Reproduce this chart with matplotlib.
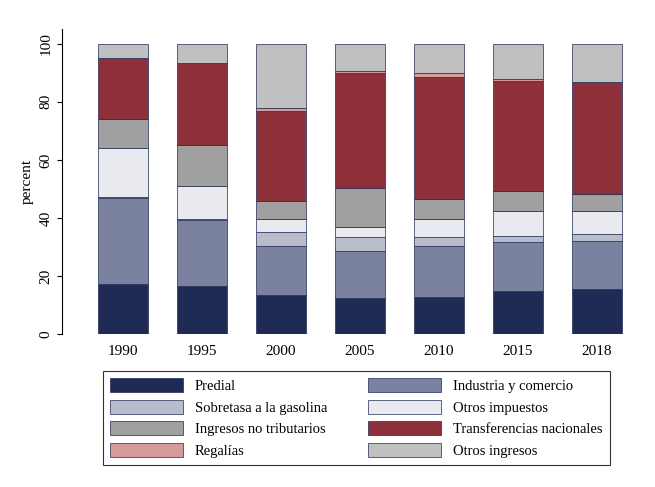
import numpy as np
import matplotlib.pyplot as plt
from matplotlib.patches import Patch

plt.rcParams['font.family'] = ['Liberation Serif', 'DejaVu Serif']

years = ['1990', '1995', '2000', '2005', '2010', '2015', '2018']
labels = ['Predial', 'Industria y comercio', 'Sobretasa a la gasolina', 'Otros impuestos',
          'Ingresos no tributarios', 'Transferencias nacionales', 'Regalías', 'Otros ingresos']
# cumulative tops
tops = [
    [17.2, 16.5, 13.4, 12.4, 12.7, 14.8, 15.5],
    [47.0, 39.2, 30.3, 28.6, 30.3, 31.7, 32.0],
    [47.3, 39.5, 35.2, 33.4, 33.4, 33.8, 34.5],
    [64.0, 51.0, 39.6, 37.0, 39.6, 42.4, 42.4],
    [74.0, 65.0, 45.9, 50.3, 46.5, 49.3, 48.3],
    [95.0, 93.4, 77.0, 90.0, 88.6, 87.2, 86.9],
    [95.0, 93.4, 78.0, 90.7, 90.0, 88.0, 86.9],
    [100, 100, 100, 100, 100, 100, 100],
]
colors = ['#1f2b55', '#7a82a0', '#b9bccb', '#e9eaef', '#a0a0a0', '#8f2f3a', '#d49a9c', '#c0c0c0']

fig = plt.figure(figsize=(6.55, 4.87), dpi=100)
ax = fig.add_axes([0.095, 0.314, 0.885, 0.626])
x = np.arange(len(years))
prev = np.zeros(len(years))
for t, c in zip(tops, colors):
    t = np.array(t, dtype=float)
    ax.bar(x, t - prev, bottom=prev, width=0.63, color=c, edgecolor='#1f2b55', linewidth=0.5)
    prev = t

ax.set_xlim(-0.77, 6.57)
ax.set_ylim(0, 105)
ax.set_yticks([0, 20, 40, 60, 80, 100])
ax.set_xticks(x)
ax.set_xticklabels(years, fontsize=11)
for lab in ax.get_yticklabels():
    lab.set_rotation(90)
    lab.set_va('center')
    lab.set_fontsize(11)
ax.set_ylabel('percent', fontsize=11)
for s in ['top', 'right']:
    ax.spines[s].set_visible(False)
ax.spines['bottom'].set_visible(False)
ax.tick_params(axis='x', length=0, pad=8)

# legend fills row-wise in the reference
order = [0, 2, 4, 6, 1, 3, 5, 7]
handles = [Patch(facecolor=colors[i], edgecolor='#1f2b55', linewidth=0.5) for i in order]
leg = fig.legend(handles, [labels[i] for i in order], loc='lower center',
                 bbox_to_anchor=(0.544, 0.03), ncol=2,
                 fontsize=10.5, frameon=True, fancybox=False, edgecolor='black',
                 handlelength=5, handleheight=1.1, columnspacing=2.8, labelspacing=0.45,
                 borderpad=0.5)
leg.get_frame().set_linewidth(0.8)

fig.savefig('out.png', dpi=100)
